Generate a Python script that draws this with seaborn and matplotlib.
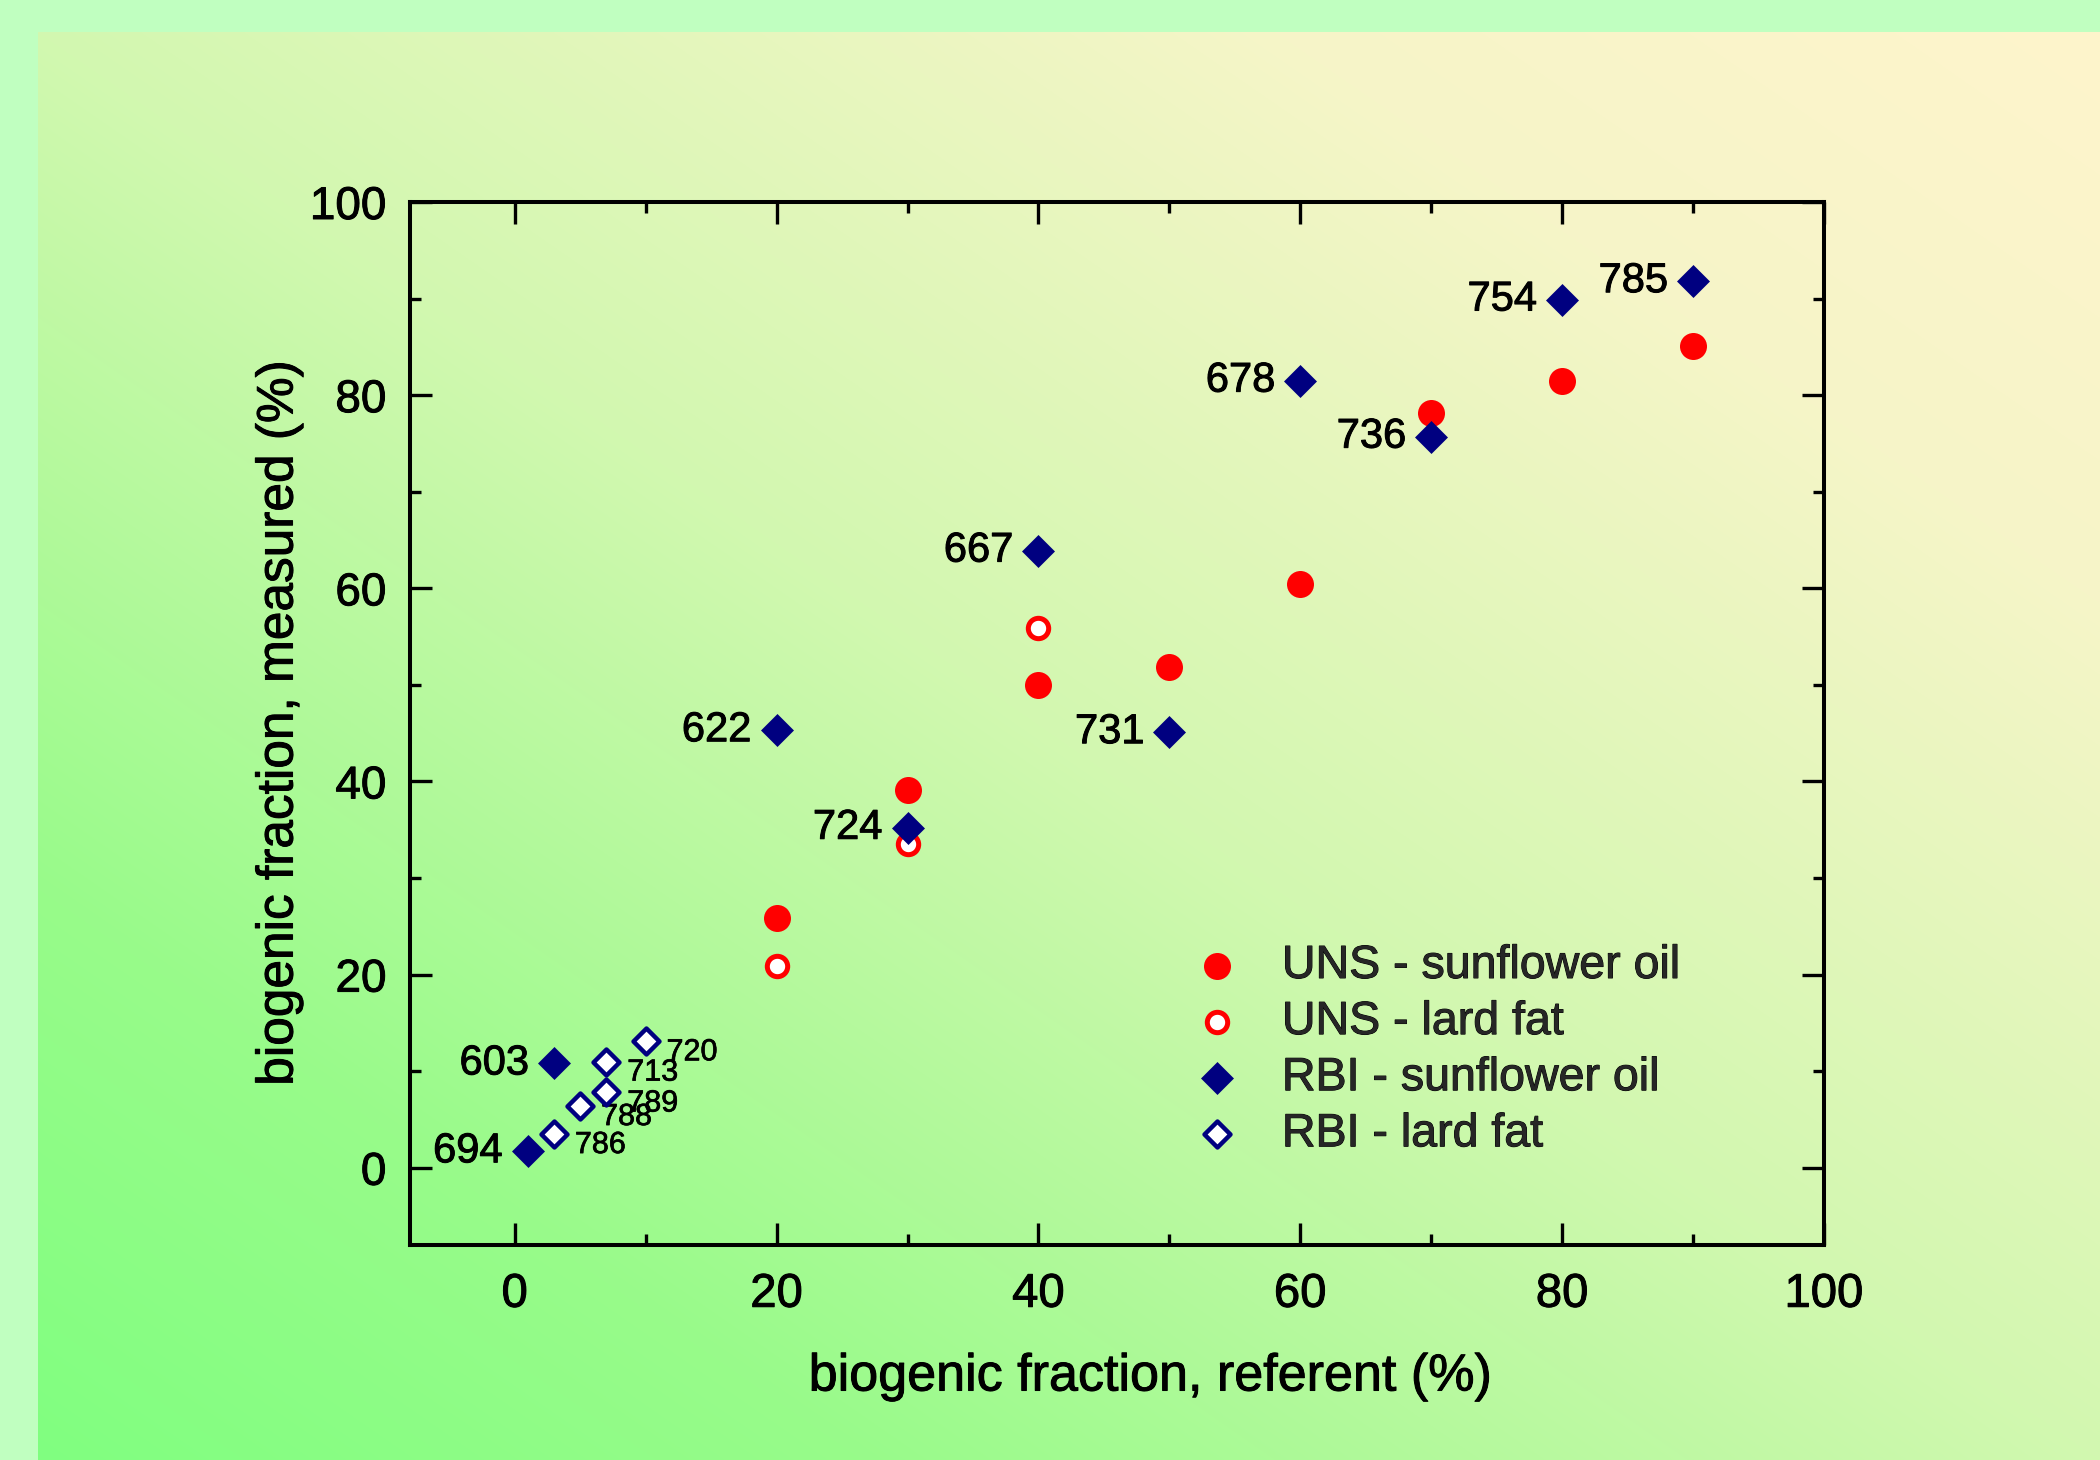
import numpy as np
import pandas as pd
import seaborn as sns
import matplotlib.pyplot as plt
import matplotlib.patheffects as pe
from matplotlib.ticker import MultipleLocator

# data
uns_sun_x = [20, 30, 40, 50, 60, 70, 80, 90]
uns_sun_y = [25.9, 39.1, 50.0, 51.8, 60.4, 78.2, 81.5, 85.1]

uns_lard_x = [20, 30, 40]
uns_lard_y = [20.9, 33.5, 55.9]

rbi_sun_x = [1, 3, 20, 30, 40, 50, 60, 70, 80, 90]
rbi_sun_y = [1.7, 10.8, 45.3, 35.2, 63.9, 45.1, 81.5, 75.7, 89.9, 91.8]
rbi_sun_id = ["694", "603", "622", "724", "667", "731", "678", "736", "754", "785"]

rbi_lard_x = [3, 5, 7, 7, 10]
rbi_lard_y = [3.5, 6.4, 7.8, 11.0, 13.1]
rbi_lard_id = ["786", "788", "789", "713", "720"]

sns.set_theme(style="ticks")
plt.rcParams['font.family'] = ['Liberation Sans', 'DejaVu Sans']

# slightly heavier text, like the original export
thick = [pe.withStroke(linewidth=0.7, foreground='black')]

W, H = 2100, 1460
fig = plt.figure(figsize=(21, 14.6), dpi=100)

# background: light green band top/left, diagonal gradient inside
band = np.array([192, 255, 192]) / 255
img = np.ones((H, W, 3)) * band
x0, y0 = 38, 32
yy, xx = np.mgrid[y0:H, x0:W]
t = ((xx - x0) / (W - x0) + (H - yy) / (H - y0)) / 2
stops = [0.0, 0.2, 0.5, 0.8, 1.0]
cols = np.array([[128, 255, 128], [152, 251, 138], [210, 248, 176],
                 [246, 245, 200], [254, 244, 204]]) / 255
for c in range(3):
    img[y0:, x0:, c] = np.interp(t, stops, cols[:, c])
bg = fig.add_axes([0, 0, 1, 1], zorder=0)
bg.imshow(img, aspect='auto', interpolation='nearest')
bg.axis('off')

ax = fig.add_axes([410 / W, 1 - 1245 / H, 1414 / W, 1043 / H], zorder=1)
ax.set_facecolor('none')

sns.scatterplot(x=uns_sun_x, y=uns_sun_y, ax=ax, marker='o', s=378,
                color='#ff0000', edgecolor='#ff0000', linewidth=0,
                label='UNS - sunflower oil', zorder=3)
sns.scatterplot(x=uns_lard_x, y=uns_lard_y, ax=ax, marker='o', s=215,
                color='white', edgecolor='#ff0000', linewidth=3.6,
                label='UNS - lard fat', zorder=3)
sns.scatterplot(x=rbi_sun_x, y=rbi_sun_y, ax=ax, marker='D', s=282,
                color='#000080', edgecolor='#000080', linewidth=0,
                label='RBI - sunflower oil', zorder=4)
sns.scatterplot(x=rbi_lard_x, y=rbi_lard_y, ax=ax, marker='D', s=175,
                color='white', edgecolor='#000080', linewidth=3.2,
                label='RBI - lard fat', zorder=4)

for x, y, s in zip(rbi_sun_x, rbi_sun_y, rbi_sun_id):
    ax.annotate(s, (x, y), xytext=(-18, 0), textcoords='offset points',
                ha='right', va='center', fontsize=30, color='black',
                path_effects=thick)
for x, y, s in zip(rbi_lard_x, rbi_lard_y, rbi_lard_id):
    ax.annotate(s, (x, y), xytext=(15, -8), textcoords='offset points',
                ha='left', va='center', fontsize=22, color='black',
                path_effects=[pe.withStroke(linewidth=0.5, foreground='black')])

ax.set_xlim(-8, 100)
ax.set_ylim(-8, 100)
ax.xaxis.set_major_locator(MultipleLocator(20))
ax.xaxis.set_minor_locator(MultipleLocator(10))
ax.yaxis.set_major_locator(MultipleLocator(20))
ax.yaxis.set_minor_locator(MultipleLocator(10))
ax.tick_params(which='both', direction='in', top=True, right=True,
               width=2.4, color='black')
ax.tick_params(which='major', length=15.5, labelcolor='black')
ax.tick_params(which='minor', length=8)
ax.tick_params(axis='x', which='major', pad=20, labelsize=34)
ax.tick_params(axis='y', which='major', pad=17, labelsize=33)
for lab in ax.get_xticklabels() + ax.get_yticklabels():
    lab.set_path_effects(thick)
for sp in ax.spines.values():
    sp.set_linewidth(2.9)
    sp.set_color('black')

ax.set_xlabel("biogenic fraction, referent (%)", fontsize=37.5, va='center',
              color='black', path_effects=thick)
ax.xaxis.set_label_coords(0.524, -0.1266)
ax.set_ylabel("biogenic fraction, measured (%)", fontsize=37, va='center',
              color='black', path_effects=thick)
ax.yaxis.set_label_coords(-0.0926, 0.5)

leg = ax.legend(loc='upper left', bbox_to_anchor=(1194 / W, 1 - 944 / H),
                bbox_transform=fig.transFigure, frameon=False, fontsize=33.5,
                scatterpoints=1, handlelength=1.0, handletextpad=0.89,
                labelspacing=0.26, borderpad=0, borderaxespad=0)
for txt in leg.get_texts():
    txt.set_path_effects(thick)

fig.savefig("out.png", dpi=100)
